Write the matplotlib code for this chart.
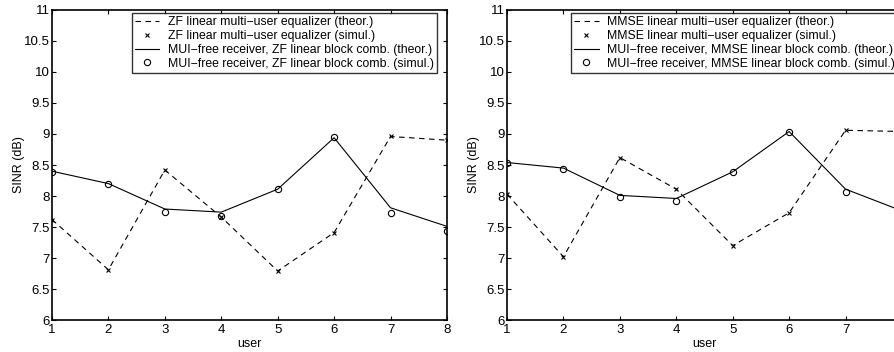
import numpy as np
import matplotlib.pyplot as plt

plt.rcParams['font.family'] = ['Liberation Sans', 'DejaVu Sans']

users = [1, 2, 3, 4, 5, 6, 7, 8]

# left panel: ZF
zf_eq_theor = [7.62, 6.81, 8.42, 7.66, 6.79, 7.41, 8.96, 8.90]
zf_eq_simul = [7.62, 6.81, 8.42, 7.66, 6.79, 7.41, 8.96, 8.90]
zf_mui_theor = [8.40, 8.20, 7.79, 7.74, 8.11, 8.94, 7.81, 7.51]
zf_mui_simul = [8.39, 8.20, 7.74, 7.68, 8.11, 8.95, 7.72, 7.44]

# right panel: MMSE
mmse_eq_theor = [8.03, 7.02, 8.62, 8.11, 7.20, 7.73, 9.06, 9.04]
mmse_eq_simul = [8.03, 7.02, 8.62, 8.11, 7.20, 7.73, 9.06, 9.04]
mmse_mui_theor = [8.54, 8.45, 8.01, 7.96, 8.39, 9.04, 8.11, 7.76]
mmse_mui_simul = [8.54, 8.44, 7.98, 7.92, 8.39, 9.03, 8.06, 7.70]

yticks = [6, 6.5, 7, 7.5, 8, 8.5, 9, 9.5, 10, 10.5, 11]
ytick_labels = ['6', '6.5', '7', '7.5', '8', '8.5', '9', '9.5', '10', '10.5', '11']
xtick_labels = ['1', '2', '3', '4', '5', '6', '7', '8']


def draw_panel(ax, name, eq_t, eq_s, mui_t, mui_s, xlabels, leg_x):
	ax.plot(users, eq_t, 'k--', lw=0.8, dashes=(5, 4),
		label='%s linear multi\u2212user equalizer (theor.)' % name)
	ax.plot(users, eq_s, 'kx', ms=3.5, mew=0.8,
		label='%s linear multi\u2212user equalizer (simul.)' % name)
	ax.plot(users, mui_t, 'k-', lw=0.8,
		label='MUI\u2212free receiver, %s linear block comb. (theor.)' % name)
	ax.plot(users, mui_s, 'ko', ms=4.5, mfc='none', mew=0.8,
		label='MUI\u2212free receiver, %s linear block comb. (simul.)' % name)
	ax.set_xlim(1, 8)
	ax.set_ylim(6, 11)
	ax.set_xticks(users)
	ax.set_xticklabels(xlabels)
	ax.set_yticks(yticks)
	ax.set_yticklabels(ytick_labels)
	ax.tick_params(direction='in', top=True, right=True, length=3,
		labelsize=9.5, pad=1.5)
	ax.tick_params(axis='x', pad=3)
	for s in ax.spines.values():
		s.set_linewidth(1.2)
	ax.set_xlabel('user', fontsize=9, labelpad=1)
	ax.set_ylabel('SINR (dB)', fontsize=9, labelpad=-1)
	leg = ax.legend(loc='upper right', bbox_to_anchor=(leg_x, 0.99),
		fontsize=8.8, frameon=True, fancybox=False,
		edgecolor='k', borderpad=0.25, labelspacing=0.15, handlelength=2.0,
		handletextpad=0.7, borderaxespad=0)
	leg.get_frame().set_linewidth(1.0)


fig = plt.figure(figsize=(8.95, 3.52), dpi=100)
ax1 = fig.add_axes([0.0581, 0.0909, 0.4413, 0.8807])
ax2 = fig.add_axes([0.5665, 0.0909, 0.4413, 0.8807])

draw_panel(ax1, 'ZF', zf_eq_theor, zf_eq_simul, zf_mui_theor, zf_mui_simul,
	xtick_labels, 0.975)
# the last tick label of the right panel falls outside the picture
draw_panel(ax2, 'MMSE', mmse_eq_theor, mmse_eq_simul, mmse_mui_theor, mmse_mui_simul,
	xtick_labels[:-1] + [''], 0.99)

fig.savefig('out.png', dpi=100)
